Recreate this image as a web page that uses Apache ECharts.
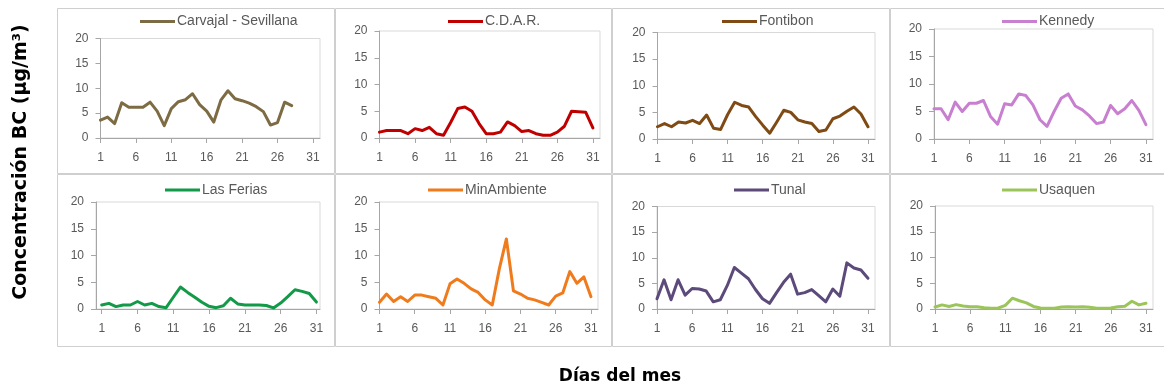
<!DOCTYPE html>
<html>
<head>
<meta charset="utf-8">
<script src="https://cdn.jsdelivr.net/npm/echarts@6/dist/echarts.min.js"></script>
<style>
  html, body { margin: 0; padding: 0; background: #ffffff; }
  #chart { width: 1164px; height: 390px; }
</style>
</head>
<body>
<div id="chart"></div>
<script>
// ---- data ----
const stations = ['Carvajal - Sevillana', 'C.D.A.R.', 'Fontibon', 'Kennedy', 'Las Ferias', 'MinAmbiente', 'Tunal', 'Usaquen'];
const days = [1, 2, 3, 4, 5, 6, 7, 8, 9, 10, 11, 12, 13, 14, 15, 16, 17, 18, 19, 20, 21, 22, 23, 24, 25, 26, 27, 28, 29, 30, 31];
const xTickLabels = [1, 6, 11, 16, 21, 26, 31];
const carvajal = [3.6, 4.2, 2.9, 7.1, 6.2, 6.2, 6.2, 7.2, 5.4, 2.5, 5.9, 7.3, 7.7, 8.9, 6.7, 5.4, 3.2, 7.6, 9.5, 7.9, 7.5, 7.0, 6.3, 5.3, 2.6, 3.1, 7.2, 6.5];
const cdar = [1.1, 1.4, 1.4, 1.4, 0.8, 1.75, 1.4, 2.0, 0.8, 0.5, 2.9, 5.5, 5.8, 5.0, 2.7, 0.8, 0.8, 1.1, 3.0, 2.3, 1.2, 1.4, 0.8, 0.5, 0.5, 1.1, 2.2, 5.0, 4.9, 4.8, 1.9];
const fontibon = [2.3, 2.9, 2.3, 3.2, 3.0, 3.5, 2.9, 4.5, 2.0, 1.8, 4.6, 6.9, 6.3, 6.0, 4.2, 2.6, 1.1, 3.2, 5.4, 5.0, 3.6, 3.2, 2.9, 1.4, 1.7, 3.8, 4.3, 5.2, 6.0, 4.7, 2.3];
const kennedy = [5.5, 5.5, 3.5, 6.7, 5.0, 6.5, 6.5, 7.0, 4.1, 2.7, 6.4, 6.2, 8.2, 7.9, 6.2, 3.5, 2.3, 5.0, 7.4, 8.2, 6.0, 5.3, 4.2, 2.8, 3.1, 6.1, 4.6, 5.5, 7.0, 5.2, 2.6];
const lasFerias = [0.75, 1.05, 0.45, 0.75, 0.75, 1.4, 0.75, 1.05, 0.45, 0.25, 2.2, 4.1, 3.1, 2.2, 1.25, 0.5, 0.25, 0.6, 2.0, 0.95, 0.75, 0.75, 0.75, 0.65, 0.2, 1.1, 2.3, 3.6, 3.3, 2.9, 1.3];
const minAmbiente = [1.25, 2.8, 1.4, 2.3, 1.4, 2.6, 2.6, 2.3, 2.0, 0.75, 4.7, 5.6, 4.8, 3.75, 3.1, 1.7, 0.75, 7.5, 13.1, 3.4, 2.8, 2.0, 1.7, 1.25, 0.75, 2.4, 3.0, 7.0, 4.8, 6.0, 2.3];
const tunal = [2.0, 5.7, 1.8, 5.7, 2.7, 4.0, 3.9, 3.5, 1.4, 1.8, 4.6, 8.1, 7.0, 5.9, 3.8, 2.0, 1.1, 3.2, 5.2, 6.8, 2.9, 3.2, 3.8, 2.6, 1.4, 3.9, 2.5, 9.0, 8.0, 7.6, 6.0];
const usaquen = [0.4, 0.8, 0.5, 0.85, 0.6, 0.45, 0.45, 0.25, 0.15, 0.2, 0.7, 2.1, 1.6, 1.2, 0.5, 0.2, 0.15, 0.15, 0.4, 0.45, 0.4, 0.45, 0.35, 0.15, 0.15, 0.2, 0.45, 0.55, 1.5, 0.8, 1.1];
const seriesValues = [carvajal, cdar, fontibon, kennedy, lasFerias, minAmbiente, tunal, usaquen];
const yTitle = 'Concentración BC (μg/m³)';
const xTitle = 'Días del mes';

// ---- styling / layout ----
const colors = ['#7d6b43', '#c00000', '#7f4a14', '#c87fd0', '#129a48', '#f07b1c', '#5c4a7a', '#9bc55a'];
// plot areas: [left, top, right, bottom] in px, x-axis extent
const plots = [
  { l: 100.5, t: 38.5, r: 320, b: 138, xmin: 1, xmax: 32 },
  { l: 379.5, t: 31, r: 600, b: 138, xmin: 1, xmax: 32 },
  { l: 657.5, t: 32.5, r: 875, b: 139, xmin: 1, xmax: 32 },
  { l: 934, t: 29, r: 1153, b: 139, xmin: 1, xmax: 32 },
  { l: 96, t: 202, r: 320, b: 309, xmin: 0.2, xmax: 31.5 },
  { l: 379.5, t: 202, r: 598, b: 309, xmin: 1, xmax: 32 },
  { l: 657, t: 206.5, r: 875, b: 309, xmin: 1, xmax: 32 },
  { l: 935, t: 206, r: 1153, b: 309, xmin: 1, xmax: 32 }
];
const legendPos = [
  { x: 140, y: 14.5 }, { x: 448, y: 14.5 }, { x: 722, y: 14.5 }, { x: 1002, y: 14.5 },
  { x: 165, y: 183 }, { x: 428, y: 183 }, { x: 734, y: 183 }, { x: 1002, y: 183 }
];
const panels = [
  [57.5, 8.5, 277, 165], [335.5, 8.5, 276, 165], [612.5, 8.5, 277, 165], [890.5, 8.5, 276, 165],
  [57.5, 174.5, 277, 172], [335.5, 174.5, 276, 172], [612.5, 174.5, 277, 172], [890.5, 174.5, 276, 172]
];

const W = 1164, H = 390;
const txtColor = '#595959';
const axisColor = '#a6a6a6';
const font = '"Liberation Sans", Arial, sans-serif';

const grid = [], xAxis = [], yAxis = [], series = [], legend = [];
plots.forEach((p, i) => {
  grid.push({
    left: p.l, top: p.t, width: p.r - p.l, height: p.b - p.t,
    show: true, borderColor: '#d9d9d9', borderWidth: 1, backgroundColor: 'transparent'
  });
  xAxis.push({
    type: 'value', gridIndex: i, min: p.xmin, max: p.xmax,
    axisLine: { show: true, onZero: false, lineStyle: { color: axisColor, width: 1 } },
    axisTick: { show: true, length: 5, lineStyle: { color: axisColor }, customValues: xTickLabels },
    axisLabel: { customValues: xTickLabels, color: txtColor, fontSize: 12, fontFamily: font, margin: 14 },
    splitLine: { show: false }
  });
  yAxis.push({
    type: 'value', gridIndex: i, min: 0, max: 20, interval: 5,
    axisLine: { show: true, lineStyle: { color: axisColor, width: 1 } },
    axisTick: { show: true, length: 5, lineStyle: { color: axisColor } },
    axisLabel: { color: txtColor, fontSize: 12, fontFamily: font, margin: 12 },
    splitLine: { show: false }
  });
  series.push({
    name: stations[i], type: 'line', xAxisIndex: i, yAxisIndex: i,
    data: seriesValues[i].map((v, k) => [days[k], v]),
    showSymbol: false, symbol: 'none', smooth: false,
    lineStyle: { color: colors[i], width: 3, join: 'round', cap: 'round' },
    itemStyle: { color: colors[i] },
    animation: false, silent: true
  });
  legend.push({
    data: [stations[i]], left: legendPos[i].x, top: legendPos[i].y, padding: 0,
    icon: 'rect', itemWidth: 35, itemHeight: 3,
    textStyle: { color: txtColor, fontSize: 14, fontFamily: font, padding: [0, 0, 0, -3] },
    selectedMode: false
  });
});

const graphic = panels.map(r => ({
  type: 'rect', shape: { x: r[0], y: r[1], width: r[2], height: r[3] },
  style: { fill: 'none', stroke: '#cfcfcf', lineWidth: 1 }, silent: true, z: -1
}));
graphic.push({
  type: 'text', x: 21, y: 162, rotation: Math.PI / 2,
  style: { text: yTitle, font: 'bold 19px "DejaVu Sans", sans-serif', fill: '#000000', align: 'center', verticalAlign: 'middle' }
});
graphic.push({
  type: 'text', x: 620, y: 377,
  style: { text: xTitle, font: 'bold 17px "DejaVu Sans", sans-serif', fill: '#000000', align: 'center', verticalAlign: 'middle' }
});

const chart = echarts.init(document.getElementById('chart'), null, { renderer: 'canvas', width: W, height: H });
chart.setOption({
  backgroundColor: '#ffffff',
  animation: false,
  grid, xAxis, yAxis, series, legend, graphic
});
</script>
</body>
</html>
